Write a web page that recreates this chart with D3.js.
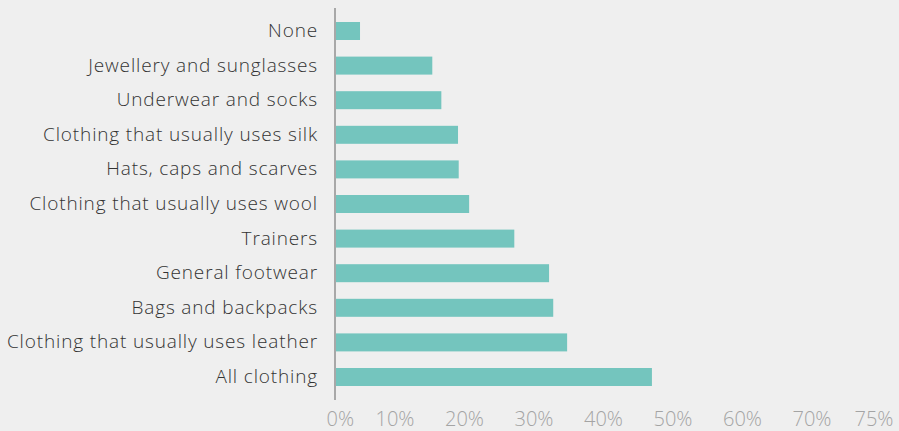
<!DOCTYPE html>
<html>
<head>
<meta charset="utf-8">
<script src="https://cdn.jsdelivr.net/npm/d3@7"></script>
<style>
  html, body { margin: 0; padding: 0; background: #efefef; }
  svg { display: block; }
</style>
</head>
<body>
<div id="chart"></div>
<script>
const categories = [
  "None",
  "Jewellery and sunglasses",
  "Underwear and socks",
  "Clothing that usually uses silk",
  "Hats, caps and scarves",
  "Clothing that usually uses wool",
  "Trainers",
  "General footwear",
  "Bags and backpacks",
  "Clothing that usually uses leather",
  "All clothing"
];
const values = [3.6, 14.0, 15.3, 17.7, 17.8, 19.3, 25.8, 30.8, 31.4, 33.4, 45.6];
const tickValues = [0, 10, 20, 30, 40, 50, 60, 70, 75];
const tickLabels = ["0%", "10%", "20%", "30%", "40%", "50%", "60%", "70%", "75%"];

const W = 899, H = 431;
const axisX = 335;
const svg = d3.select("#chart").append("svg")
  .attr("width", W).attr("height", H)
  .style("background", "#efefef");

const x = d3.scaleLinear().domain([0, 10]).range([axisX, axisX + 69.5]);
const y = d3.scaleBand().domain(categories).range([13.7, 394.3])
  .paddingInner(0.48).paddingOuter(0.24);

// bars
svg.append("g").selectAll("rect").data(categories).join("rect")
  .attr("x", x(0))
  .attr("y", d => y(d))
  .attr("width", (d, i) => x(values[i]) - x(0))
  .attr("height", y.bandwidth())
  .attr("fill", "#74c5be");

// category labels
const yAxis = d3.axisLeft(y).tickSize(0).tickPadding(17);
const gy = svg.append("g").attr("transform", `translate(${axisX},0)`).call(yAxis);
gy.select(".domain").remove();
gy.selectAll("text")
  .attr("fill", "#333333")
  .style("font-family", "'Open Sans'")
  .style("font-weight", 300)
  .style("font-size", "19px")
  .style("letter-spacing", "0.85px");

// vertical axis line
svg.append("line")
  .attr("x1", axisX).attr("x2", axisX)
  .attr("y1", 8).attr("y2", 400)
  .attr("stroke", "#a8a8a8").attr("stroke-width", 2);

// x axis labels
const xAxis = d3.axisBottom(x).tickValues(tickValues)
  .tickFormat((d, i) => tickLabels[i]).tickSize(0).tickPadding(0);
const gx = svg.append("g").attr("transform", "translate(0,404)").call(xAxis);
gx.select(".domain").remove();
const n = tickValues.length;
gx.selectAll("text")
  .attr("fill", "#a4a4a4")
  .attr("y", 22)
  .attr("dy", 0)
  .style("font-family", "'Open Sans'")
  .style("font-weight", 300)
  .style("font-size", "20px")
  .attr("text-anchor", (d, i) => i === 0 ? "start" : (i === n - 1 ? "end" : "middle"))
  .attr("dx", (d, i) => i === 0 ? -9 : 0)
  .attr("x", (d, i) => i === n - 1 ? (W - 6) - x(d) : (i === 0 ? 0 : -10));
</script>
</body>
</html>
